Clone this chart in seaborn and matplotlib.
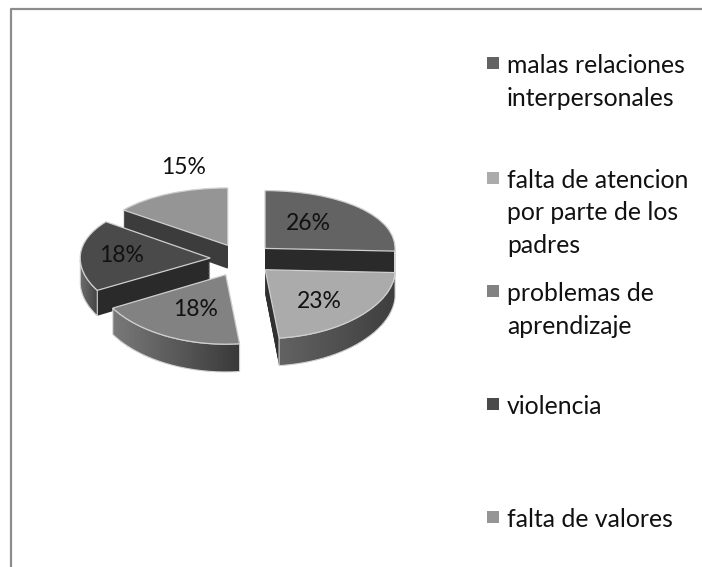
import matplotlib
matplotlib.use("Agg")
import matplotlib.pyplot as plt
import numpy as np
import seaborn as sns
from matplotlib.lines import Line2D
from matplotlib.patches import PathPatch, Rectangle
from matplotlib.path import Path

categories = ["malas relaciones\ninterpersonales", "falta de atencion\npor parte de los\npadres",
              "problemas de\naprendizaje", "violencia", "falta de valores"]
values = [25.7, 22.6, 18.45, 18.45, 14.8]
explode = [0.245, 0.245, 0.275, 0.245, 0.245]
face_colors = ["#636363", "#ababab", "#828282", "#4a4a4a", "#959595"]
radial_colors = ["#2a2a2a", "#303030", "#3a3a3a", "#2a2a2a", "#3c3c3c"]
wall_left = ["#555555", "#626262", "#787878", "#6c6c6c", "#555555"]
wall_right = ["#3c3c3c", "#3e3e3e", "#3a3a3a", "#444444", "#3c3c3c"]
# back slices first
draw_order = [0, 4, 3, 2, 1]
pct_xy = [(308, 224), (319, 301), (196, 310), (122, 256), (184, 167)]
legend_y = [63, 178, 291, 404, 517]

W, H = 702, 567
DEPTH = 0.37
LAYERS = 30
BEND = 0.065


def forward(y):
    return y - BEND * np.asarray(y) ** 2


def inverse(v):
    v = np.minimum(v, 3.8)
    return (1 - np.sqrt(1 - 4 * BEND * v)) / (2 * BEND)


def px(x, y):
    return x / W, 1 - y / H


sns.set_theme(style="white")
plt.rcParams["font.family"] = ["Lato", "DejaVu Sans"]
fig = plt.figure(figsize=(W / 100, H / 100), dpi=100)

# axes box in pixels, pie centre at (242, 259), 130 px per unit in x, 63.3 px in y
box = (60, 160, 410, 390)
ax = fig.add_axes([box[0] / W, 1 - box[3] / H, (box[2] - box[0]) / W, (box[3] - box[1]) / H])

# extruded body
for k in range(LAYERS, 0, -1):
    wedges, _ = ax.pie(values, explode=explode, colors=radial_colors, startangle=90, counterclock=False,
                       center=(0, -DEPTH * k / LAYERS), radius=1, wedgeprops={"linewidth": 0})
    for i, w in enumerate(wedges):
        w.set_zorder(10 + 10 * draw_order.index(i))

# top faces
tops, _, pcts = ax.pie(values, explode=explode, colors=face_colors, startangle=90, counterclock=False,
                       center=(0, 0), radius=1, autopct="%1.0f%%",
                       wedgeprops={"linewidth": 0.9, "edgecolor": "#cfcfcf"})
for i, w in enumerate(tops):
    w.set_zorder(12 + 10 * draw_order.index(i))

ax.set_aspect("auto")
ax.set_yscale("function", functions=(forward, inverse))
ax.set_xticks([])
ax.set_yticks([])
ax.minorticks_off()
ax.patch.set_alpha(0)
for s in ax.spines.values():
    s.set_visible(False)

# outer walls with a left to right shade
for i, w in enumerate(tops):
    a = np.radians(np.linspace(w.theta1, w.theta2, 80))
    cx, cy = w.center
    ax_x = cx + np.cos(a)
    ax_y = cy + np.sin(a)
    front = ax_y < cy - 0.02
    if not front.any():
        continue
    ax_x, ax_y = ax_x[front], ax_y[front]
    xy = np.r_[np.c_[ax_x, ax_y], np.c_[ax_x, ax_y - DEPTH][::-1], [[ax_x[0], ax_y[0]]]]
    wall = PathPatch(Path(xy), facecolor="none", edgecolor="#d4d4d4", linewidth=0.8,
                     transform=ax.transData, zorder=11.5 + 10 * draw_order.index(i))
    ax.add_patch(wall)
    xs = np.linspace(ax_x.min(), ax_x.max(), 60)
    ys = [-2.5, 2]
    cmap = sns.blend_palette([wall_left[i], wall_right[i]], as_cmap=True)
    mesh = ax.pcolormesh(xs, ys, [xs[:-1]], cmap=cmap, zorder=11 + 10 * draw_order.index(i))
    mesh.set_clip_path(wall)

ax.set_xlim((box[0] - 242) / 130, (box[2] - 242) / 130)
ax.set_ylim(inverse((259 - box[3]) / 63.3), inverse((259 - box[1]) / 63.3))

for t, (x, y) in zip(pcts, pct_xy):
    t.set_visible(False)
    fig.text(*px(x, y), t.get_text(), ha="center", va="center", fontsize=16.5, color="#111111", zorder=100)

# legend
for i, label in enumerate(categories):
    fig.add_artist(Rectangle(px(487, legend_y[i] + 6), 12 / W, 12 / H, transform=fig.transFigure,
                             facecolor=face_colors[i], edgecolor="none"))
    for n, line in enumerate(label.split("\n")):
        fig.text(*px(507, legend_y[i] + 10 + 32.5 * n), line, ha="left", va="baseline", fontsize=17.8, color="#111111")

# chart frame, open at the bottom and right
frame_x = [11 / W, 11 / W, 1]
frame_y = [0, 1 - 9 / H, 1 - 9 / H]
fig.add_artist(Line2D(frame_x, frame_y, transform=fig.transFigure, color="#8c8c8c", linewidth=1.6))

fig.savefig("out.png", dpi=100)
